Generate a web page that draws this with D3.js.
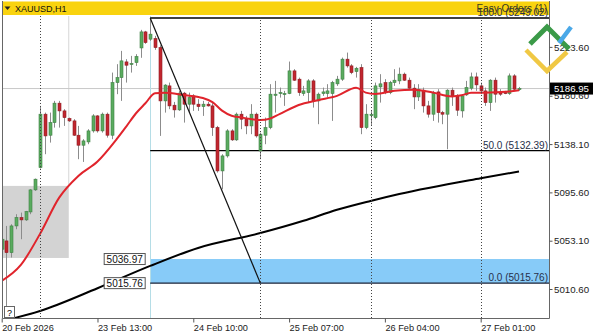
<!DOCTYPE html>
<html>
<head>
<meta charset="utf-8">
<script src="https://cdn.jsdelivr.net/npm/d3@7"></script>
<style>
body { margin: 0; background: #fff; }
text { font-family: "Liberation Sans", Arial, sans-serif; }
</style>
</head>
<body>
<script>
// XAUUSD H1 candles (bar index 0 = 20 Feb 16:00)
var opens = [5045.6,5052.9,5042.6,5066.1,5073.4,5071.4,5078.4,5097.8,5117.4,5164.4,
  5145.9,5157.0,5174.1,5167.3,5160.6,5158.5,5145.9,5137.1,5140.0,5149.7,
  5162.9,5149.7,5164.4,5145.9,5192.2,5196.6,5210.4,5208.1,5209.8,5222.7,
  5236.8,5230.4,5230.9,5223.0,5176.1,5189.3,5172.3,5168.2,5182.9,5173.2,
  5180.5,5173.2,5171.1,5173.2,5171.7,5152.6,5114.5,5127.7,5149.7,5141.8,
  5164.4,5160.0,5154.1,5164.4,5132.1,5145.9,5152.6,5181.0,5183.0,5182.2,
  5182.6,5202.5,5195.2,5182.6,5183.4,5193.7,5176.1,5182.6,5182.6,5182.6,
  5191.1,5195.2,5212.8,5206.9,5201.9,5205.4,5152.6,5163.5,5161.4,5188.4,
  5192.2,5183.4,5192.2,5193.7,5199.6,5194.3,5187.3,5179.6,5185.5,5171.7,
  5164.4,5184.0,5165.8,5164.4,5185.5,5180.5,5167.3,5181.4,5187.3,5197.2,
  5189.3,5184.9,5174.6,5194.3,5183.4,5183.4,5182.6,5198.1,5186.4];
var highs = [5060.3,5066.1,5067.6,5076.4,5077.8,5079.3,5098.4,5107.8,5171.7,5165.8,
  5165.8,5176.1,5176.1,5168.8,5161.4,5160.0,5154.1,5142.4,5151.2,5164.4,
  5163.5,5165.8,5165.8,5201.0,5208.4,5220.1,5212.8,5215.7,5217.2,5238.6,
  5237.7,5249.0,5233.3,5225.0,5190.8,5192.2,5175.2,5184.9,5184.0,5183.4,
  5182.0,5177.6,5176.1,5175.2,5174.1,5154.1,5129.2,5151.2,5151.2,5165.8,
  5167.3,5162.9,5173.2,5165.8,5148.2,5161.4,5190.8,5193.7,5187.8,5184.9,
  5210.7,5204.0,5196.6,5189.3,5195.2,5195.2,5183.4,5187.8,5190.8,5193.7,
  5198.1,5214.2,5218.6,5208.4,5206.0,5208.4,5173.2,5167.3,5192.2,5199.6,
  5195.2,5193.7,5204.0,5205.4,5201.0,5196.6,5190.8,5190.8,5187.8,5176.1,
  5184.9,5186.4,5167.3,5186.4,5187.8,5182.0,5182.0,5193.7,5201.0,5201.0,
  5192.2,5187.8,5195.2,5196.6,5186.4,5184.9,5200.2,5199.6,5188.4];
var lows = [5036.8,4994.0,5038.3,5063.2,5054.4,5070.5,5076.4,5096.9,5116.6,5129.2,
  5139.4,5152.6,5152.6,5154.1,5157.6,5145.3,5124.8,5122.4,5138.0,5148.2,
  5148.2,5148.2,5143.8,5142.4,5182.0,5176.1,5192.2,5201.0,5206.9,5214.0,
  5226.3,5228.9,5221.0,5145.3,5165.8,5168.8,5161.4,5167.3,5157.0,5165.8,
  5167.3,5167.3,5162.9,5171.1,5145.3,5113.0,5098.4,5126.2,5140.9,5140.9,
  5151.2,5146.8,5146.8,5143.8,5124.8,5138.0,5151.2,5165.8,5179.0,5171.7,
  5182.0,5193.7,5180.5,5180.5,5174.6,5170.2,5155.6,5180.5,5179.0,5158.5,
  5189.3,5193.7,5205.4,5199.6,5196.6,5146.8,5151.2,5154.1,5160.0,5174.6,
  5182.0,5182.0,5189.3,5190.8,5193.7,5186.4,5168.8,5176.0,5165.8,5161.4,
  5158.5,5157.0,5155.6,5133.6,5171.7,5162.9,5161.4,5180.5,5185.5,5184.9,
  5182.0,5171.7,5167.3,5174.6,5180.5,5182.0,5181.4,5184.9,5184.9];
var closes = [5054.4,5042.6,5066.1,5073.4,5071.4,5078.7,5097.8,5107.2,5164.4,5145.3,
  5157.0,5174.1,5167.3,5161.4,5158.5,5145.9,5137.1,5140.9,5149.7,5162.9,
  5149.7,5164.4,5145.9,5192.2,5196.6,5211.3,5207.5,5209.0,5215.1,5236.8,
  5227.4,5234.8,5223.0,5176.1,5190.0,5171.7,5168.2,5182.9,5173.2,5179.0,
  5173.2,5171.1,5173.2,5171.7,5152.6,5114.5,5127.7,5149.7,5141.8,5164.4,
  5160.0,5154.1,5164.4,5145.3,5146.8,5152.6,5182.0,5182.0,5183.4,5182.5,
  5202.5,5194.3,5183.4,5184.9,5193.7,5176.1,5182.0,5184.0,5184.9,5192.2,
  5195.2,5212.8,5206.9,5201.0,5204.8,5152.6,5164.4,5164.0,5189.3,5191.1,
  5183.4,5192.2,5194.3,5199.6,5194.3,5187.3,5179.6,5186.4,5171.7,5164.4,
  5182.6,5165.8,5164.4,5185.5,5180.5,5167.9,5180.5,5187.8,5197.2,5190.2,
  5184.9,5174.6,5194.3,5182.0,5182.0,5182.6,5198.1,5186.4,5186.95];

// moving averages
var redMaBars = [0,4,8,12,16,20,24,26,28,30,32,34,38,42,44,46,48,50,54,56,58,62,66,70,74,76,78,82,86,90,94,96,98,102,106,108];
var redMaValues = [5017.7,5031.8,5059.1,5091.0,5110.1,5122.7,5142.4,5153.5,5165.0,5174.0,5182.9,5183.2,5181.2,5178.6,5175.0,5167.5,5163.0,5161.6,5159.2,5160.5,5164.4,5172.5,5176.7,5180.5,5187.6,5183.4,5182.2,5185.0,5186.0,5183.4,5180.0,5181.0,5183.2,5183.4,5184.3,5185.5];
var blackMaBars = [2,8,20,31,41,54,63,70,77,83,100,108];
var blackMaValues = [4984.3,4991.3,5011.3,5030.9,5046.7,5059.8,5070.6,5080.3,5088.1,5094.2,5108.1,5114.0];

var yTicks = [5223.60, 5180.60, 5138.10, 5095.60, 5053.10, 5010.60];
var xTickBars = [0, 20, 40, 60, 80, 100];
var xTickLabels = ["20 Feb 2026", "23 Feb 13:00", "24 Feb 10:00", "25 Feb 07:00", "26 Feb 04:00", "27 Feb 01:00"];
var separatorBars = [8, 54, 77, 100];

var fibBars = [31, 54];
var fibLevels = [0, 50, 100];
var fibPrices = [5015.76, 5132.39, 5249.02];
var zoneBar = 31;
var zonePrices = [5036.97, 5015.76];
var greyBoxBar = 14;
var greyBoxPrices = [5101.3, 5037.9];
var bidPrice = 5186.95;

var svgWidth = 598;
var svgHeight = 336;
var plot = {left: 2, right: 549, top: 16, bottom: 318};

var svg = d3.select("body")
  .append("svg")
  .attr("width", svgWidth)
  .attr("height", svgHeight);

svg.append("rect").attr("width", svgWidth).attr("height", svgHeight).attr("fill", "#fff");

var xScale = d3.scaleLinear().domain([0, 108]).range([1.7, 519]);
var yScale = d3.scaleLinear().domain([5010.6, 5223.6]).range([289, 46.9]);

svg.append("clipPath").attr("id", "clip")
  .append("rect")
  .attr("x", plot.left).attr("y", plot.top)
  .attr("width", plot.right - plot.left).attr("height", plot.bottom - plot.top);

var chartGroup = svg.append("g").attr("clip-path", "url(#clip)");

// grey box and its vertical line
chartGroup.append("rect")
  .attr("x", plot.left)
  .attr("y", yScale(greyBoxPrices[0]))
  .attr("width", xScale(greyBoxBar) - plot.left)
  .attr("height", yScale(greyBoxPrices[1]) - yScale(greyBoxPrices[0]))
  .attr("fill", "#d3d3d3");
chartGroup.append("line")
  .attr("x1", xScale(greyBoxBar)).attr("x2", xScale(greyBoxBar))
  .attr("y1", plot.top).attr("y2", yScale(greyBoxPrices[0]))
  .attr("stroke", "#d6d6d6");

// blue zone
chartGroup.append("rect")
  .attr("x", xScale(zoneBar))
  .attr("y", yScale(zonePrices[0]))
  .attr("width", plot.right - xScale(zoneBar))
  .attr("height", yScale(zonePrices[1]) - yScale(zonePrices[0]))
  .attr("fill", "#87cbf8");

// bid line
chartGroup.append("line")
  .attr("x1", plot.left).attr("x2", plot.right)
  .attr("y1", yScale(bidPrice)).attr("y2", yScale(bidPrice))
  .attr("stroke", "#c8c8c8");

// day separators
separatorBars.forEach(function(b) {
  svg.append("line")
    .attr("x1", Math.round(xScale(b)) + 0.5).attr("x2", Math.round(xScale(b)) + 0.5)
    .attr("y1", b === 8 ? plot.top : 2).attr("y2", plot.bottom)
    .attr("stroke", "#444")
    .attr("stroke-dasharray", "1,2");
});
chartGroup.append("line")
  .attr("x1", Math.round(xScale(zoneBar)) + 0.5).attr("x2", Math.round(xScale(zoneBar)) + 0.5)
  .attr("y1", plot.top).attr("y2", plot.bottom)
  .attr("stroke", "#b5dde6");

// fibo levels
fibPrices.forEach(function(p, k) {
  chartGroup.append("line")
    .attr("x1", xScale(fibBars[0])).attr("x2", plot.right)
    .attr("y1", yScale(p)).attr("y2", yScale(p))
    .attr("stroke", k === 0 ? "#1c2438" : "#000")
    .attr("stroke-width", 1.3);
});

// black MA
var maLine = d3.line()
  .x(d => xScale(d[0]))
  .y(d => yScale(d[1]))
  .curve(d3.curveMonotoneX);

chartGroup.append("path")
  .datum(d3.zip(blackMaBars, blackMaValues))
  .attr("d", maLine)
  .attr("fill", "none")
  .attr("stroke", "#000")
  .attr("stroke-width", 2);

// candles
var bars = opens.map((o, i) => ({i: i, o: o, h: highs[i], l: lows[i], c: closes[i]}));

var candles = chartGroup.selectAll(".candle")
  .data(bars)
  .enter()
  .append("g");

candles.append("line")
  .attr("x1", d => Math.round(xScale(d.i)) + 0.5)
  .attr("x2", d => Math.round(xScale(d.i)) + 0.5)
  .attr("y1", d => yScale(d.h))
  .attr("y2", d => yScale(d.l))
  .attr("stroke", "#8c8c8c");

candles.append("rect")
  .attr("x", d => Math.round(xScale(d.i)) - 1)
  .attr("y", d => yScale(Math.max(d.o, d.c)))
  .attr("width", 3)
  .attr("height", d => Math.max(1, Math.abs(yScale(d.o) - yScale(d.c))))
  .attr("fill", d => d.c >= d.o ? "#5aab5f" : "#c2262e")
  .attr("stroke", d => d.c >= d.o ? "#3e7f43" : "#8e1c22")
  .attr("stroke-width", 0.6);

// red MA
chartGroup.append("path")
  .datum(d3.zip(redMaBars, redMaValues))
  .attr("d", maLine)
  .attr("fill", "none")
  .attr("stroke", "#e0242c")
  .attr("stroke-width", 2);

// fibo trend line
chartGroup.append("line")
  .attr("x1", xScale(fibBars[0])).attr("y1", yScale(fibPrices[2]))
  .attr("x2", xScale(fibBars[1])).attr("y2", yScale(fibPrices[0]))
  .attr("stroke", "#111")
  .attr("stroke-width", 1.2);

// header
svg.append("rect")
  .attr("x", plot.left).attr("y", 1.5)
  .attr("width", plot.right - plot.left).attr("height", 13.5)
  .attr("fill", "#f9d30f");
svg.append("path")
  .attr("d", "M4.5,6.5 L10.5,6.5 L7.5,10 Z")
  .attr("fill", "#222");
svg.append("text")
  .attr("x", 15).attr("y", 12)
  .attr("font-size", "9px")
  .attr("fill", "#111")
  .text("XAUUSD,H1");

// fibo labels
fibPrices.forEach(function(p, k) {
  svg.append("text")
    .attr("x", plot.right - 1)
    .attr("y", yScale(p) - 2)
    .attr("text-anchor", "end")
    .attr("font-size", "10px")
    .attr("fill", "#27304a")
    .text(fibLevels[k].toFixed(1) + " (" + p.toFixed(2) + ")");
});
svg.append("text")
  .attr("x", plot.right - 2)
  .attr("y", 12)
  .attr("text-anchor", "end")
  .attr("font-size", "10px")
  .attr("fill", "#3a3a20")
  .text("Easy Orders (1)");

// zone price labels
zonePrices.forEach(function(p) {
  var g = svg.append("g")
    .attr("transform", `translate(${xScale(zoneBar) - 46}, ${yScale(p)})`);
  g.append("rect")
    .attr("x", 0).attr("y", -5.5)
    .attr("width", 41).attr("height", 11)
    .attr("fill", "#fff")
    .attr("stroke", "#555");
  g.append("text")
    .attr("x", 20.5).attr("y", 4)
    .attr("text-anchor", "middle")
    .attr("font-size", "10px")
    .attr("fill", "#111")
    .text(p.toFixed(2));
});

// "?" event marker
svg.append("rect")
  .attr("x", 4.5).attr("y", 306.5).attr("width", 10).attr("height", 11)
  .attr("fill", "#fff").attr("stroke", "#666");
svg.append("text")
  .attr("x", 9.5).attr("y", 315.5)
  .attr("text-anchor", "middle")
  .attr("font-size", "9px")
  .text("?");

// frame
svg.append("path")
  .attr("d", `M${plot.left + 0.5},1 V${plot.bottom + 0.5} H${plot.right + 0.5} V1`)
  .attr("fill", "none")
  .attr("stroke", "#666");

// axes
var rightAxis = d3.axisRight(yScale)
  .tickValues(yTicks)
  .tickSize(3)
  .tickFormat(d => d.toFixed(2));
var yAxisG = svg.append("g")
  .attr("transform", `translate(${plot.right + 0.5}, 0)`)
  .call(rightAxis);
yAxisG.select(".domain").remove();
yAxisG.attr("font-family", "Liberation Sans, Arial, sans-serif").attr("font-size", "9.7px");
yAxisG.selectAll("line").attr("stroke", "#555");
yAxisG.selectAll("text").attr("fill", "#222").attr("x", 4.5);

var bottomAxis = d3.axisBottom(xScale)
  .tickValues(xTickBars)
  .tickSize(4)
  .tickFormat((d, k) => xTickLabels[k]);
var xAxisG = svg.append("g")
  .attr("transform", `translate(0, ${plot.bottom + 0.5})`)
  .call(bottomAxis);
xAxisG.select(".domain").remove();
xAxisG.attr("font-family", "Liberation Sans, Arial, sans-serif").attr("font-size", "9.2px");
xAxisG.selectAll("line").attr("stroke", "#555");
xAxisG.selectAll("text").attr("fill", "#222").attr("text-anchor", "start").attr("y", 6);

// bid price box
svg.append("rect")
  .attr("x", 550).attr("y", yScale(bidPrice) - 6)
  .attr("width", 43).attr("height", 12)
  .attr("fill", "#000");
svg.append("text")
  .attr("x", 571.5).attr("y", yScale(bidPrice) + 3.5)
  .attr("text-anchor", "middle")
  .attr("font-size", "9.7px")
  .attr("fill", "#fff")
  .text(bidPrice.toFixed(2));

// logo
var logo = svg.append("g").attr("fill", "none").attr("stroke-linecap", "butt");
logo.append("path")
  .attr("d", "M526,50 L547,71 L567,52")
  .attr("stroke", "#f0c844").attr("stroke-width", 4.5);
logo.append("path")
  .attr("d", "M530,44 L547,27 L569,49")
  .attr("stroke", "#3b9a48").attr("stroke-width", 5);
logo.append("path")
  .attr("d", "M559,43 L571,27")
  .attr("stroke", "#4aa8e8").attr("stroke-width", 4.5);
</script>
</body>
</html>
